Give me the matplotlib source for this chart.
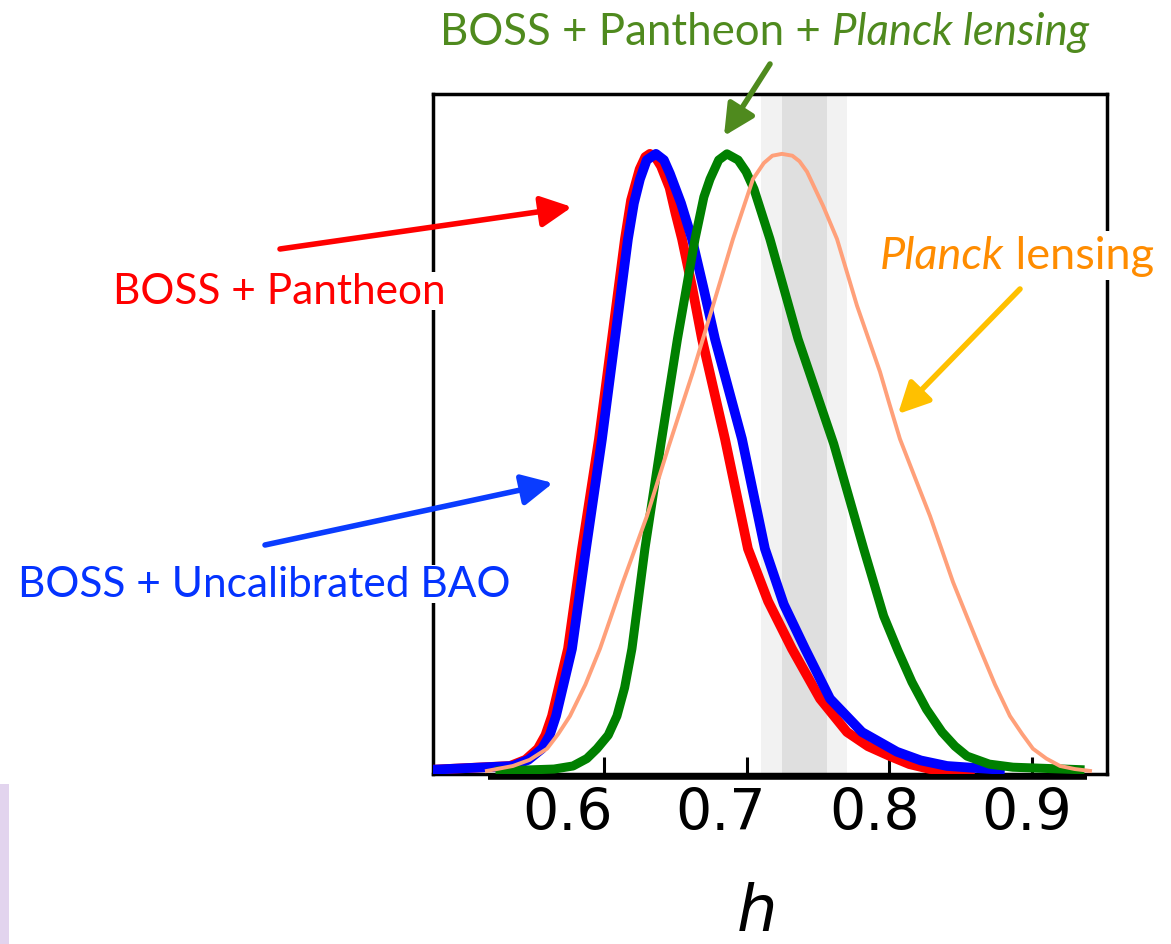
import numpy as np
import matplotlib
matplotlib.use("Agg")
import matplotlib.pyplot as plt
from matplotlib.transforms import ScaledTranslation, blended_transform_factory
from matplotlib.patches import Rectangle

plt.rcParams['font.family'] = ['DejaVu Sans']

# -- posterior curves (h, normalised P) --
red_h = [0.4802, 0.5341, 0.5450, 0.5537, 0.5590, 0.5636, 0.5748, 0.5846, 0.5965, 0.6056,
         0.6147, 0.6190, 0.6250, 0.6290, 0.6322, 0.6360, 0.6400, 0.6460, 0.6500, 0.6547,
         0.6617, 0.6687, 0.6848, 0.7009, 0.7150, 0.7317, 0.7514, 0.7703, 0.7850, 0.8004,
         0.8140, 0.8285, 0.8565]
red_p = [0.002, 0.008, 0.018, 0.036, 0.058, 0.089, 0.198, 0.360, 0.538, 0.700,
         0.862, 0.925, 0.975, 0.995, 1.000, 0.995, 0.980, 0.945, 0.905, 0.862,
         0.785, 0.700, 0.538, 0.360, 0.275, 0.198, 0.117, 0.063, 0.040, 0.024,
         0.011, 0.003, 0.000]

blue_h = [0.4802, 0.5362, 0.5470, 0.5566, 0.5620, 0.5664, 0.5776, 0.5874, 0.5986, 0.6077,
          0.6168, 0.6210, 0.6252, 0.6300, 0.6364, 0.6420, 0.6462, 0.6540, 0.6617, 0.6700,
          0.6778, 0.6967, 0.7128, 0.7260, 0.7409, 0.7584, 0.7808, 0.8053, 0.8220, 0.8404,
          0.8775]
blue_p = [0.002, 0.008, 0.018, 0.036, 0.058, 0.089, 0.198, 0.360, 0.538, 0.700,
          0.862, 0.920, 0.959, 0.990, 1.000, 0.990, 0.968, 0.920, 0.862, 0.780,
          0.700, 0.538, 0.360, 0.270, 0.198, 0.117, 0.063, 0.031, 0.017, 0.008,
          0.002]

green_h = [0.5271, 0.5650, 0.5783, 0.5880, 0.5951, 0.6030, 0.6091, 0.6145, 0.6196, 0.6287,
           0.6399, 0.6515, 0.6638, 0.6700, 0.6743, 0.6804, 0.6862, 0.6940, 0.6996, 0.7051,
           0.7163, 0.7360, 0.7610, 0.7820, 0.7960, 0.8060, 0.8158, 0.8260, 0.8369, 0.8460,
           0.8544, 0.8700, 0.8866, 0.9336]
green_p = [0.000, 0.003, 0.008, 0.020, 0.036, 0.058, 0.089, 0.135, 0.198, 0.360,
           0.530, 0.700, 0.862, 0.930, 0.959, 0.990, 1.000, 0.990, 0.971, 0.943,
           0.862, 0.700, 0.530, 0.360, 0.251, 0.195, 0.144, 0.100, 0.063, 0.040,
           0.024, 0.011, 0.006, 0.002]

planck_h = [0.5180, 0.5362, 0.5480, 0.5601, 0.5680, 0.5762, 0.5870, 0.5972, 0.6133, 0.6301,
            0.6448, 0.6624, 0.6764, 0.6904, 0.7044, 0.7120, 0.7180, 0.7247, 0.7320, 0.7370,
            0.7423, 0.7535, 0.7633, 0.7773, 0.7934, 0.8000, 0.8074, 0.8180, 0.8285, 0.8365,
            0.8446, 0.8540, 0.8635, 0.8740, 0.8845, 0.8930, 0.9006, 0.9100, 0.9196, 0.9300,
            0.9406]
planck_p = [0.000, 0.008, 0.018, 0.036, 0.060, 0.089, 0.140, 0.198, 0.306, 0.413,
            0.522, 0.647, 0.754, 0.862, 0.959, 0.985, 0.997, 1.000, 0.997, 0.988,
            0.971, 0.916, 0.862, 0.754, 0.647, 0.595, 0.538, 0.475, 0.413, 0.360,
            0.306, 0.252, 0.198, 0.140, 0.089, 0.060, 0.036, 0.020, 0.008, 0.003,
            0.000]

# local H0 bands (1 and 2 sigma)
band_1sig = (0.7245, 0.7561)
band_2sig = (0.7100, 0.7703)

xticks = [0.6, 0.7, 0.8, 0.9]
xticklabels = ['0.6', '0.7', '0.8', '0.9']
xlim = (0.4802, 0.9525)
baseline_range = (0.519, 0.9385)

W, H = 1171, 945
fig = plt.figure(figsize=(W / 100, H / 100), dpi=100)
ax = fig.add_axes([433 / W, 170 / H, 674 / W, 680 / H])

ax.axvspan(*band_2sig, color='#f2f2f2', lw=0, zorder=0)
ax.axvspan(*band_1sig, color='#dfdfdf', lw=0, zorder=0)

ax.plot(red_h, red_p, color='#ff0000', lw=7, zorder=3, solid_joinstyle='round')
ax.plot(blue_h, blue_p, color='#0000ff', lw=7, zorder=3.1, solid_joinstyle='round')
ax.plot(green_h, green_p, color='#008000', lw=6.5, zorder=3.2, solid_joinstyle='round')
ax.plot(planck_h, planck_p, color='#ffa07a', lw=2.8, zorder=3.3, solid_joinstyle='round')

ax.set_xlim(*xlim)
ax.set_ylim(-0.005, 1.097)
ax.set_yticks([])
ax.set_xticks(xticks)
ax.set_xticklabels(xticklabels)
ax.tick_params(axis='x', direction='in', length=12, width=2.2, labelsize=41, pad=9)
for s in ax.spines.values():
    s.set_linewidth(2.5)

# thick bar under the frame
tr = blended_transform_factory(ax.transData, ax.transAxes) + ScaledTranslation(0, -3 / 100, fig.dpi_scale_trans)
ax.plot(baseline_range, [0, 0], color='black', lw=4, transform=tr, clip_on=False, zorder=4,
        solid_capstyle='butt')

# tick labels sit a little left of their ticks in the original
for lab, dx in zip(ax.get_xticklabels(), [-36, -26, -15, -5]):
    lab.set_transform(lab.get_transform() + ScaledTranslation(dx / 100, 0, fig.dpi_scale_trans))

ax.set_xlabel('h', style='italic', fontsize=46)
ax.xaxis.set_label_coords(0.481, -0.158)

# -- annotations (figure pixel positions) --
tfont = 'Lato'


def px(x, y):
    return (x, H - y)


def arrow(tail, tip, color):
    ax.annotate('', xy=px(*tip), xycoords='figure pixels', xytext=px(*tail),
                textcoords='figure pixels', annotation_clip=False, zorder=6,
                arrowprops=dict(arrowstyle='-|>,head_length=1.1,head_width=0.55', mutation_scale=17,
                                color=color, lw=4, shrinkA=0, shrinkB=0))


box = dict(facecolor='white', edgecolor='none', pad=0.35)

fig.text(113 / W, 1 - 292 / H, 'BOSS + Pantheon', color='#ff0000', fontsize=30.5, family=tfont,
         va='center', ha='left', bbox=box, zorder=5)
arrow((280, 250), (572, 208), '#ff0000')

fig.text(18 / W, 1 - 585 / H, 'BOSS + Uncalibrated BAO', color='#0433ff', fontsize=30.5, family=tfont,
         va='center', ha='left', bbox=box, zorder=5)
arrow((265, 546), (553, 484), '#0a3cff')

t1 = fig.text(440 / W, 1 - 53 / H, 'BOSS + Pantheon + ', color='#4f8a1e', fontsize=31.5, family=tfont,
              va='bottom', ha='left')
ax.annotate('Planck lensing', xycoords=t1, xy=(1, 0), va='bottom', color='#4f8a1e',
            fontsize=31.5, family=tfont, style='italic', annotation_clip=False)
arrow((770, 65), (724, 137), '#4f8a1e')

t2 = fig.text(880 / W, 1 - 277 / H, 'Planck', color='#ff8c00', fontsize=32.5, family=tfont,
              style='italic', va='bottom', ha='left', zorder=5)
ax.annotate(' lensing', xycoords=t2, xy=(1, 0), va='bottom', color='#ff8c00', fontsize=32.5,
            family=tfont, annotation_clip=False, bbox=dict(facecolor='white', edgecolor='none', pad=3),
            zorder=5)
arrow((1020, 290), (898, 415), '#ffc000')

# purple edge decoration bottom-left
fig.patches.append(Rectangle((0, 0), 9 / W, 160 / H, transform=fig.transFigure,
                             facecolor='#e2d4ee', edgecolor='none', zorder=0))

fig.savefig('out.png', dpi=100)
